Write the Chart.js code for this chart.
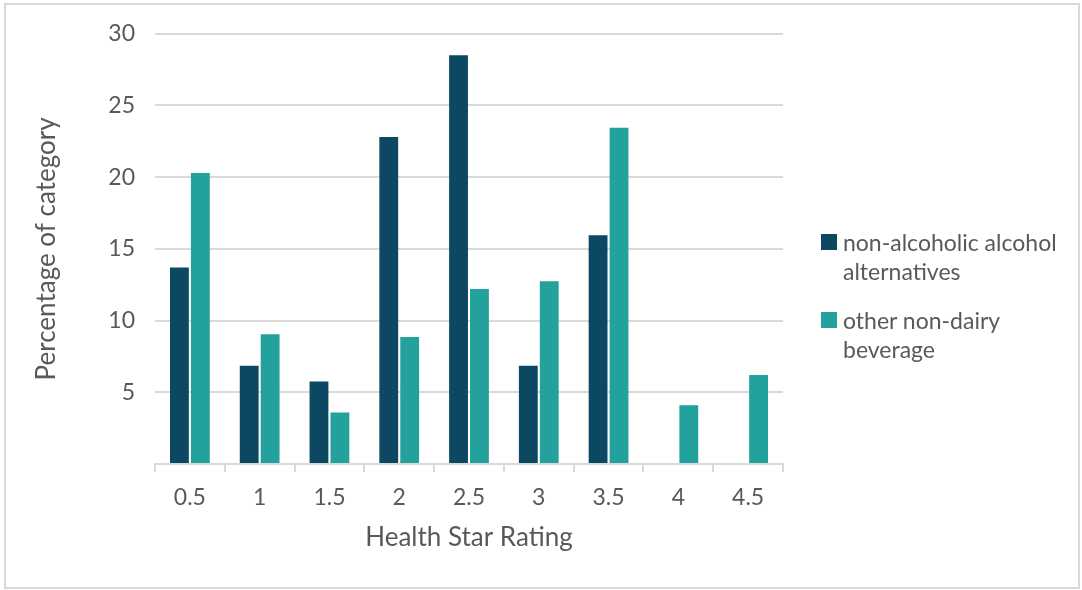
<!DOCTYPE html>
<html>
<head>
<meta charset="utf-8">
<script src="https://cdn.jsdelivr.net/npm/chart.js@4.4.1/dist/chart.umd.min.js"></script>
<style>
  body { margin: 0; background: #fff; font-family: Lato, sans-serif; }
  #wrap { position: relative; width: 1082px; height: 590px; }
  #frame { position: absolute; left: 4px; top: 3px; width: 1072px; height: 582px; border: 2px solid #d9d9d9; }
  #chart { position: absolute; left: 0; top: 0; }
  #legend { position: absolute; left: 821px; top: 228px; width: 252px; color: #595959; font-size: 23px; line-height: 29px; }
  .item { display: flex; align-items: flex-start; margin-bottom: 20px; }
  .box { width: 16px; height: 16px; flex: none; margin-top: 6px; margin-right: 6px; }
</style>
</head>
<body>
<div id="wrap">
  <div id="frame"></div>
  <canvas id="chart" width="1082" height="590"></canvas>
  <div id="legend"></div>
</div>
<script>
const categories = ["0.5", "1", "1.5", "2", "2.5", "3", "3.5", "4", "4.5"];
const nonAlcoholic = [13.7, 6.85, 5.75, 22.8, 28.5, 6.85, 15.95, 0, 0];
const otherNonDairy = [20.3, 9.05, 3.6, 8.85, 12.2, 12.75, 23.45, 4.1, 6.2];
const seriesNames = ["non-alcoholic alcohol alternatives", "other non-dairy beverage"];
const seriesColors = ["#0c4862", "#22a19d"];
const yTicks = [0, 5, 10, 15, 20, 25, 30];

const textColor = "#595959";
const tickFont = { family: "Lato, sans-serif", size: 23 };
const titleFont = { family: "Lato, sans-serif", size: 26 };

const chart = new Chart(document.getElementById("chart"), {
    type: "bar",
    data: {
        labels: categories,
        datasets: [
            { label: seriesNames[0], data: nonAlcoholic, backgroundColor: seriesColors[0] },
            { label: seriesNames[1], data: otherNonDairy, backgroundColor: seriesColors[1] },
        ],
    },
    options: {
        responsive: false,
        animation: false,
        categoryPercentage: 0.6,
        barPercentage: 0.9,
        layout: { padding: { left: 31, right: 299, top: 22, bottom: 37 } },
        plugins: {
            legend: { display: false },
            tooltip: { enabled: false },
        },
        scales: {
            x: {
                afterFit: (axis) => { axis.height = 89; },
                grid: { drawOnChartArea: false, color: "#d9d9d9", lineWidth: 2, tickLength: 8 },
                border: { color: "#d9d9d9", width: 2 },
                ticks: { color: textColor, font: tickFont, padding: 12 },
                title: { display: true, text: "Health Star Rating", color: textColor, font: titleFont, padding: { top: 11, bottom: 0 } },
            },
            y: {
                min: 0,
                max: 30,
                afterBuildTicks: (axis) => { axis.ticks = yTicks.map(v => ({ value: v })); },
                afterFit: (axis) => { axis.width = 124; },
                grid: { color: "#d9d9d9", lineWidth: 2, drawTicks: false },
                border: { display: false },
                ticks: {
                    color: textColor, font: tickFont, padding: 20,
                    callback: (v) => v === 0 ? "" : v,
                },
                title: { display: true, text: "Percentage of category", color: textColor, font: titleFont, padding: { top: 0, bottom: 20 } },
            },
        },
    },
});

// legend as html so the labels can wrap like the original
const legend = document.getElementById("legend");
chart.data.datasets.forEach((ds) => {
    const item = document.createElement("div");
    item.className = "item";
    const box = document.createElement("div");
    box.className = "box";
    box.style.background = ds.backgroundColor;
    const label = document.createElement("div");
    label.textContent = ds.label;
    item.appendChild(box);
    item.appendChild(label);
    legend.appendChild(item);
});
</script>
</body>
</html>
